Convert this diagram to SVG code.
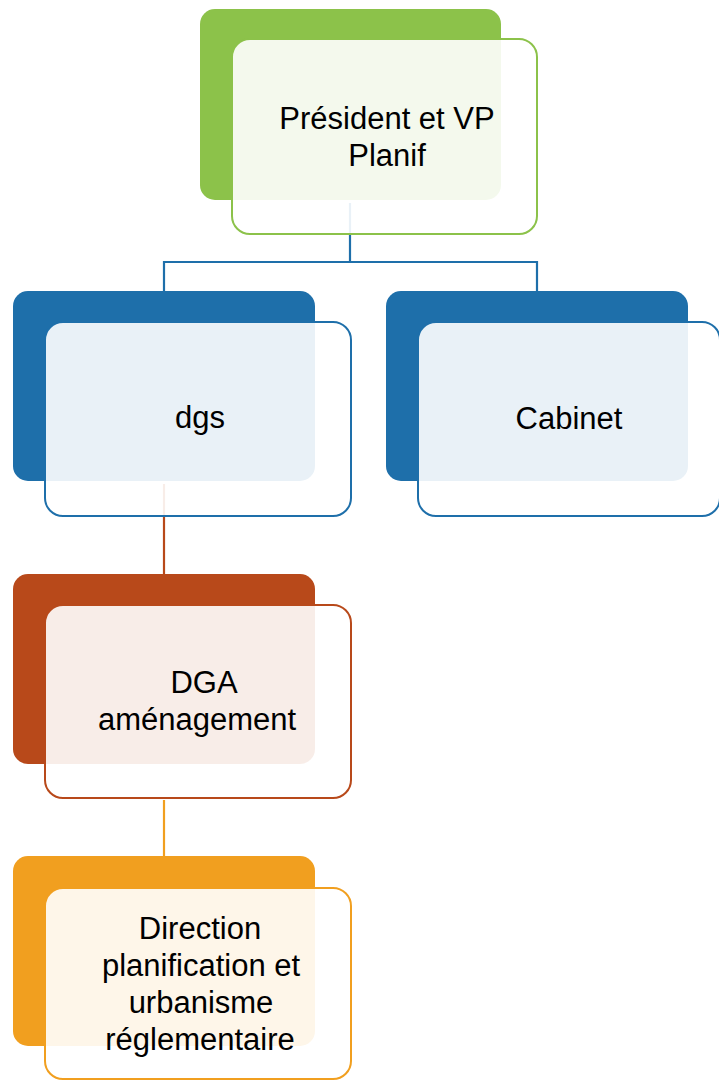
<svg xmlns="http://www.w3.org/2000/svg" width="719" height="1080" viewBox="0 0 719 1080">
<style>
.front{fill:#ffffff;fill-opacity:0.9;stroke-width:2}
.lbl{font-family:"Liberation Sans",Arial,sans-serif;font-size:31px;fill:#000;text-anchor:middle}
.con{fill:none;stroke-width:2.2}
</style>
<rect width="719" height="1080" fill="#ffffff"/>
<g id="connectors">
<path class="con" stroke="#1E6FAA" d="M350,203 V262 M164,262 H537 M164,261 V291 M537,261 V291"/>
<path class="con" stroke="#B8491A" d="M164,484 V574"/>
<path class="con" stroke="#F19F1F" d="M164,800 V856"/>
</g>
<g id="node-president">
<rect x="200" y="9" width="301" height="191" rx="15" fill="#8CC24A"/>
<rect class="front" x="232" y="39" width="305" height="195" rx="18" stroke="#8CC24A"/>
<text class="lbl" x="387" y="129">Président et VP</text>
<text class="lbl" x="387" y="166">Planif</text>
</g>
<g id="node-dgs">
<rect x="13" y="291" width="302" height="190" rx="15" fill="#1E6FAA"/>
<rect class="front" x="45" y="322" width="306" height="194" rx="18" stroke="#1E6FAA"/>
<text class="lbl" x="200" y="428">dgs</text>
</g>
<g id="node-cabinet">
<rect x="386" y="291" width="302" height="190" rx="15" fill="#1E6FAA"/>
<rect class="front" x="418" y="322" width="302" height="194" rx="18" stroke="#1E6FAA"/>
<text class="lbl" x="569" y="429">Cabinet</text>
</g>
<g id="node-dga">
<rect x="13" y="574" width="302" height="190" rx="15" fill="#B8491A"/>
<rect class="front" x="45" y="605" width="306" height="193" rx="18" stroke="#B8491A"/>
<text class="lbl" x="204" y="693">DGA</text>
<text class="lbl" x="197" y="730">aménagement</text>
</g>
<g id="node-direction">
<rect x="13" y="856" width="302" height="190" rx="15" fill="#F19F1F"/>
<rect class="front" x="45" y="888" width="306" height="191" rx="18" stroke="#F19F1F"/>
<text class="lbl" x="200" y="939">Direction</text>
<text class="lbl" x="201" y="976">planification et</text>
<text class="lbl" x="201" y="1013">urbanisme</text>
<text class="lbl" x="200" y="1050">réglementaire</text>
</g>
</svg>
